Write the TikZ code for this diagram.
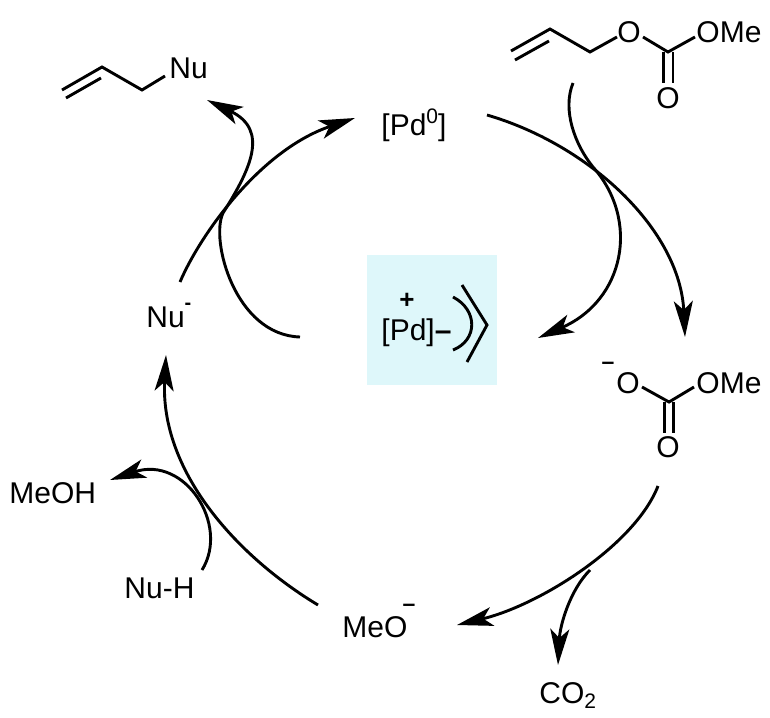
\documentclass[tikz,border=0pt]{standalone}
\usepackage{fontspec}
\setmainfont{Liberation Sans}
\usetikzlibrary{arrows.meta}
\definecolor{boxc}{RGB}{222,247,250}
\newcommand\supx[2][12pt]{\raisebox{#1}{\fontsize{21}{21}\selectfont #2}}
\begin{document}
\begin{tikzpicture}[x=1pt,y=-1pt,line width=2.9pt,
  lbl/.style={inner sep=0pt,font=\fontsize{30}{32}\selectfont,anchor=base west},
  chg/.style={inner sep=0pt,font=\bfseries\fontsize{23}{23}\selectfont,anchor=base},
  arr/.style={-{Stealth[length=36pt,width=19pt,inset=9pt]}},
  bond/.style={line cap=butt,line join=miter}]
\useasboundingbox (0,0) rectangle (770,717);
% highlight box
\fill[boxc] (367,255) rectangle (497,385);

% ---- labels ----
\node[lbl] (nuA) at (168,78) {Nu};
\node[lbl] (pd0) at (380,135) {[Pd\supx{0}]};
\node[lbl,anchor=base] (oA) at (629,42) {O};
\node[lbl] (omeA) at (695,42) {OMe};
\node[lbl,anchor=base] (ocA) at (668,108) {O};
\node[lbl] (pdc) at (380,340) {[Pd]\textbf{–}};
\node[inner sep=0pt,font=\bfseries\fontsize{26}{26}\selectfont,anchor=base] (plus) at (407,308) {+};
\node[lbl,anchor=base] (oB) at (628,393) {O};
\node[chg] (mB) at (608,369) {–};
\node[lbl] (omeB) at (695,393) {OMe};
\node[lbl,anchor=base] (ocB) at (668,457) {O};
\node[lbl] (nuM) at (145,327) {Nu};
\node[chg,font=\bfseries\fontsize{20}{20}\selectfont] (mNu) at (188,309) {-};
\node[lbl] (meoh) at (8,503) {MeOH};
\node[lbl] (nuh) at (123,598) {Nu-H};
\node[lbl] (meo) at (341,637) {MeO};
\node[chg] (mMeo) at (409,611) {–};
\node[lbl] (co2) at (538,703) {CO\raisebox{-5pt}{\fontsize{21}{21}\selectfont 2}};

% ---- structures ----
% allyl-Nu
\draw[bond] (62,90) -- (102,67) -- (142,90) -- (165,76);
\draw[bond] (66,98) -- (101,78);
% allyl methyl carbonate
\draw[bond] (511,51) -- (550,29) -- (590,52) -- (617,37);
\draw[bond] (515,60) -- (549,41);
\draw[bond] (643,37) -- (668,52) -- (695,37);
\draw[bond] (663.5,52) -- (663.5,83);
\draw[bond] (673,52) -- (673,83);
% methyl carbonate anion
\draw[bond] (642,387) -- (669,402) -- (694,387);
\draw[bond] (664.5,402) -- (664.5,433);
\draw[bond] (673.5,402) -- (673.5,433);
% allyl ligand
\draw (453,297) .. controls (478,310) and (478,340) .. (453,350);
\draw[bond] (462,285) -- (487,325) -- (467,362);

% ---- coordinates for connectors ----
\coordinate (pdOut) at (487,115);
\coordinate (carbIn) at (685,337);
\coordinate (subStart) at (573,83);
\coordinate (subMid) at (593,167);
\coordinate (cplxIn) at (538,338);
\coordinate (carbOut) at (658,486);
\coordinate (meoIn) at (457,625);
\coordinate (co2Split) at (590,570);
\coordinate (co2In) at (558,665);
\coordinate (meoOut) at (318,605);
\coordinate (nuIn) at (166,355);
\coordinate (nuhOut) at (202,570);
\coordinate (meohIn) at (110,480);
\coordinate (nuOut) at (180,282);
\coordinate (pdIn) at (355,118);
\coordinate (cplxOut) at (300,337);
\coordinate (brMid) at (223,213);
\coordinate (allylIn) at (207,100);

% ---- connectors ----
\draw[arr] (pdOut) .. controls (590,145) and (680,230) .. (carbIn);
\draw[arr] (subStart) .. controls (562,110) and (575,145) .. (subMid)
           .. controls (640,220) and (625,300) .. (cplxIn);
\draw[arr] (carbOut) .. controls (635,545) and (540,605) .. (meoIn);
\draw[arr] (co2Split) .. controls (570,590) and (560,625) .. (co2In);
\draw[arr] (meoOut) .. controls (235,555) and (160,470) .. (nuIn);
\draw[arr] (nuhOut) .. controls (230,525) and (185,455) .. (meohIn);
\draw[arr] (nuOut) .. controls (200,235) and (260,150) .. (pdIn);
\draw[arr] (cplxOut) .. controls (235,335) and (210,240) .. (brMid)
           .. controls (250,170) and (270,130) .. (allylIn);
\end{tikzpicture}
\end{document}
